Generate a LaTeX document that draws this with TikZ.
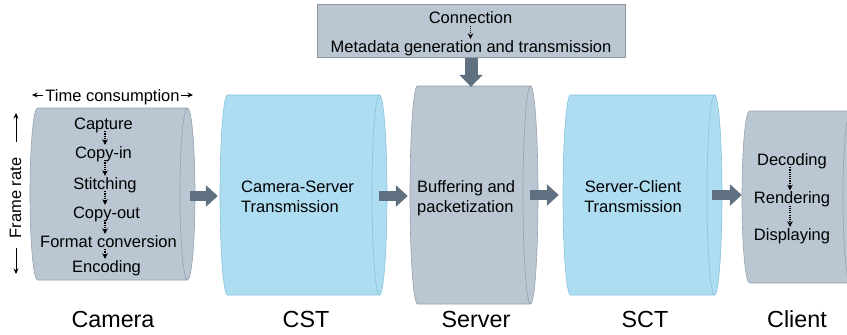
\documentclass[tikz,border=0pt]{standalone}
\usepackage{fontspec}
\setmainfont{Liberation Sans}
\usetikzlibrary{arrows.meta,calc,fit}
\definecolor{cylgray}{RGB}{186,199,210}
\definecolor{cylgrayline}{RGB}{150,162,173}
\definecolor{cylblue}{RGB}{174,220,240}
\definecolor{cylblueline}{RGB}{135,196,224}
\definecolor{arrowc}{RGB}{95,112,128}
\definecolor{boxline}{RGB}{140,148,156}
\newcommand\cylrx{7.5}
\newcommand\mycyl[6]{%
  \pgfmathsetmacro\cylry{(#5-#4)/2}%
  \path[#6] (#2+\cylrx,#4) arc[start angle=90,end angle=270,x radius=\cylrx pt,y radius=\cylry pt]
     -- (#3-\cylrx,#5) arc[start angle=-90,end angle=90,x radius=\cylrx pt,y radius=\cylry pt] -- cycle;
  \path[#6,fill=none] (#3-\cylrx,#4) arc[start angle=90,end angle=270,x radius=\cylrx pt,y radius=\cylry pt];
  \node[inner sep=0pt,fit={(#2,#4) (#3,#5)}] (#1) {};
}
\tikzset{
  graycyl/.style={fill=cylgray,draw=cylgrayline,line width=0.6pt},
  bluecyl/.style={fill=cylblue,draw=cylblueline,line width=0.6pt},
  txt/.style={font=\fontsize{16.5}{20}\selectfont,inner sep=0pt,text height=12pt,text depth=0pt,anchor=base},
  biglabel/.style={font=\fontsize{23.3}{28}\selectfont,inner sep=0pt,anchor=base},
  blockarrow/.style={draw=arrowc,line width=9.5pt,-{Triangle[length=12pt,width=21pt]}},
  bigblockarrow/.style={draw=arrowc,line width=13pt,-{Triangle[length=12pt,width=23pt]}},
  dotarrow/.style={draw=black,line width=1.1pt,dash pattern=on 1.1pt off 1.1pt,-{Stealth[length=5.5pt,width=5.5pt]}},
  smallarrow/.style={draw=black,line width=1pt,-{Stealth[length=5.5pt,width=5pt]}},
  topboxstyle/.style={draw=boxline,fill=cylgray,line width=0.6pt,minimum width=308pt,minimum height=53pt,inner sep=0pt}
}
\begin{document}
\begin{tikzpicture}[x=1pt,y=-1pt]
\useasboundingbox (0,0) rectangle (847,335);
\clip (0,0) rectangle (847,335);
\coordinate (mid) at (0,196);

% cylinders
\mycyl{cam}{30}{195}{108}{280}{graycyl}
\mycyl{cst}{220}{387}{95}{295}{bluecyl}
\mycyl{server}{410}{538}{86}{304}{graycyl}
\mycyl{sct}{563}{722}{95}{295}{bluecyl}
\mycyl{client}{742}{858}{111}{283}{graycyl}

% top box
\node[topboxstyle] (topbox) at (471,30.5) {};
\node[txt] (conn) at (470.5,23.5) {Connection};
\node[txt] (meta) at (471,52) {Metadata generation and transmission};
\draw[dotarrow] ($(conn.south)+(0,2)$) -- ($(conn.south |- meta.north)+(0,-1)$);
\draw[bigblockarrow] ($(topbox.south)+(0,1)$) -- ($(topbox.south |- server.north)+(0,1)$);

% camera texts
\node[txt] (tc) at (112.5,101) {Time consumption};
\coordinate (tcl) at (32,95);
\coordinate (tcr) at (193,95);
\draw[smallarrow] ($(tc.west)+(-2,0)$) -- (tcl);
\draw[smallarrow] ($(tc.east)+(1,0)$) -- (tcr);

\node[txt,anchor=center,rotate=90] (fr) at (15,198) {Frame rate};
\coordinate (frua) at (16,142);
\coordinate (frub) at (16,113);
\coordinate (frda) at (16,248);
\coordinate (frdb) at (16,274);
\draw[smallarrow] (frua) -- (frub);
\draw[smallarrow] (frda) -- (frdb);

\coordinate (camx) at (105,0);
\node[txt] (c1) at (103.5,129) {Capture};
\node[txt] (c2) at (103.5,158) {Copy-in};
\node[txt] (c3) at (105,189) {Stitching};
\node[txt] (c4) at (106.5,218) {Copy-out};
\node[txt] (c5) at (108.5,247) {Format conversion};
\node[txt] (c6) at (106.5,272) {Encoding};
\foreach \a/\b in {c1/c2,c2/c3,c3/c4,c4/c5,c5/c6}{
  \draw[dotarrow] ($(\a.south -| camx)+(0,2)$) -- ($(\b.north -| camx)+(0,-1)$);
}

% CST
\node[txt,anchor=base west] (cstA) at (241,192) {Camera-Server};
\node[txt,anchor=base west] (cstB) at (241,212) {Transmission};
% Server
\node[txt,anchor=base west] (srvA) at (417,192) {Buffering and};
\node[txt,anchor=base west] (srvB) at (417,212) {packetization};
% SCT
\node[txt] (sctA) at (633,192) {Server-Client};
\node[txt] (sctB) at (633,212) {Transmission};

% client
\coordinate (clx) at (790,0);
\node[txt] (d1) at (792,165) {Decoding};
\node[txt] (d2) at (792,203.5) {Rendering};
\node[txt] (d3) at (792,240) {Displaying};
\draw[dotarrow] ($(d1.south -| clx)+(0,2)$) -- ($(d2.north -| clx)+(0,-1)$);
\draw[dotarrow] ($(d2.south -| clx)+(0,2)$) -- ($(d3.north -| clx)+(0,-1)$);

% block arrows
\draw[blockarrow] ($(cam.east |- mid)+(-5,0)$) -- ($(cst.west |- mid)+(-2,0)$);
\draw[blockarrow] ($(cst.east |- mid)+(-8,0)$) -- ($(server.west |- mid)+(-2,0)$);
\draw[blockarrow] ($(server.east |- mid)+(-8,-1)$) -- ($(sct.west |- mid)+(-4,-1)$);
\draw[blockarrow] ($(sct.east |- mid)+(-10,-1)$) -- ($(client.west |- mid)+(0,-1)$);

% labels
\node[biglabel] (lcam) at (113,327) {Camera};
\node[biglabel] (lcst) at (306,327) {CST};
\node[biglabel] (lsrv) at (476,327) {Server};
\node[biglabel] (lsct) at (645,327) {SCT};
\node[biglabel] (lcli) at (797,327) {Client};
\end{tikzpicture}
\end{document}
